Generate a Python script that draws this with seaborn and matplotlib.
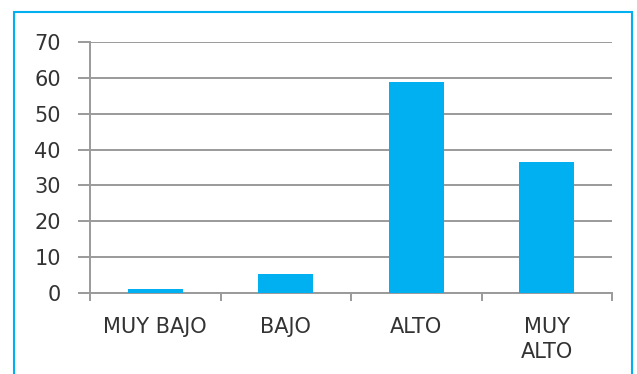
import matplotlib
matplotlib.use("Agg")
import matplotlib.pyplot as plt
import seaborn as sns
import pandas as pd
from matplotlib.patches import Rectangle

categories = ["MUY BAJO", "BAJO", "ALTO", "MUY\nALTO"]
values = [1.0, 5.3, 58.9, 36.5]
yticks = [0, 10, 20, 30, 40, 50, 60, 70]

sns.set_style("white")
plt.rcParams['font.family'] = ['DejaVu Sans']

df = pd.DataFrame({"cat": categories, "val": values})

fig = plt.figure(figsize=(6.37, 3.74), dpi=100)
ax = fig.add_axes([90/637, 1-293/374, (612-90)/637, (293-42)/374])

sns.barplot(data=df, x="cat", y="val", color="#00B0F0", saturation=1,
            width=0.42, ax=ax, zorder=3, linewidth=0)

grid_c = "#9a9a9a"
txt_c = "#333333"
ax.set_ylim(0, 70)
ax.set_xlim(-0.5, len(categories) - 0.5)
ax.set_yticks(yticks)
ax.set_yticklabels([str(t) for t in yticks])
for t in yticks:
    ax.axhline(t, color=grid_c, lw=1.4, zorder=1)

ax.set_xticks([i - 0.5 for i in range(len(categories) + 1)])
ax.set_xticklabels([])
ax.set_xticks(range(len(categories)), minor=True)
ax.set_xticklabels(categories, minor=True, fontsize=15, color=txt_c,
                   linespacing=1.35, va="top")
ax.tick_params(axis="x", which="minor", length=0, pad=17, bottom=True)
ax.tick_params(axis="x", which="major", length=6, width=1.4, color=grid_c,
               direction="out", bottom=True)
ax.tick_params(axis="y", length=9, width=1.4, color=grid_c, direction="out",
               labelsize=15, labelcolor=txt_c, pad=12, left=True)

for s in ["top", "right"]:
    ax.spines[s].set_visible(False)
for s in ["left", "bottom"]:
    ax.spines[s].set_color(grid_c)
    ax.spines[s].set_linewidth(1.4)
ax.set_xlabel("")
ax.set_ylabel("")

fig.patches.append(Rectangle((14/637, -0.05), (632-14)/637, 1.05 - 12/374,
                             transform=fig.transFigure, fill=False,
                             edgecolor="#00B0F0", lw=1.5))

fig.savefig("out.png", dpi=100)
